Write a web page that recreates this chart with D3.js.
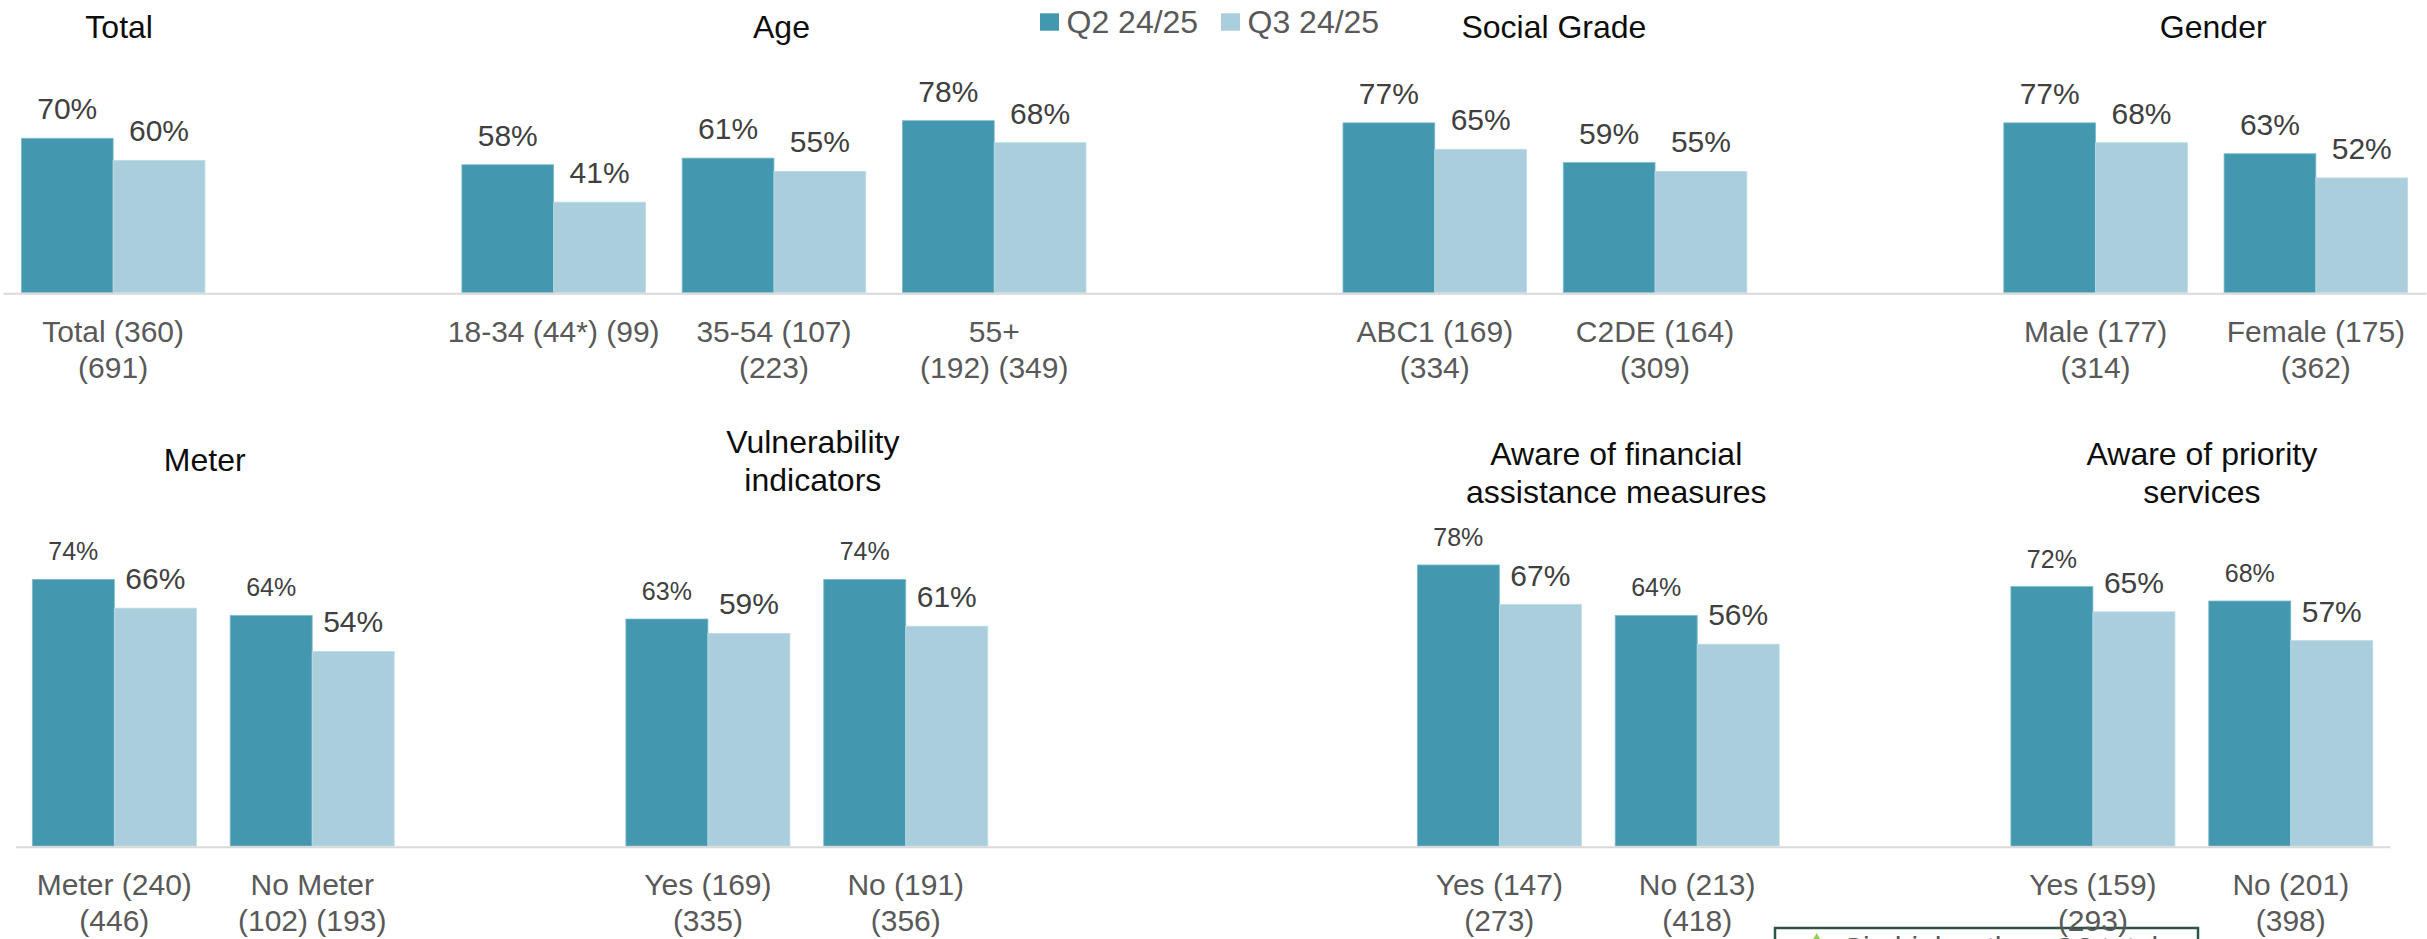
<!DOCTYPE html>
<html>
<head>
<meta charset="utf-8">
<script src="https://cdn.jsdelivr.net/npm/d3@7/dist/d3.min.js"></script>
<style>
  html, body { margin: 0; padding: 0; background: #ffffff; }
  svg { display: block; }
  text { font-family: "Liberation Sans", Arial, sans-serif; }
</style>
</head>
<body>
<svg id="chart" width="2427" height="939"></svg>
<script>
// ---- Data ----------------------------------------------------------------
const seriesNames = ["Q2 24/25", "Q3 24/25"];

// Top row: empty strings are spacer slots between the breakdowns
const topCategories = [
  "Total (360)\n(691)", "",
  "18-34 (44*) (99)", "35-54 (107)\n(223)", "55+\n(192) (349)", "",
  "ABC1 (169)\n(334)", "C2DE (164)\n(309)", "",
  "Male (177)\n(314)", "Female (175)\n(362)"
];
const topQ2 = [70, null, 58, 61, 78, null, 77, 59, null, 77, 63];
const topQ3 = [60, null, 41, 55, 68, null, 65, 55, null, 68, 52];
const topGroups = [
  { title: ["Total"], first: 0, last: 0 },
  { title: ["Age"], first: 2, last: 4 },
  { title: ["Social Grade"], first: 6, last: 7 },
  { title: ["Gender"], first: 9, last: 10 }
];

// Bottom row
const bottomCategories = [
  "Meter (240)\n(446)", "No Meter\n(102) (193)", "",
  "Yes (169)\n(335)", "No (191)\n(356)", "", "",
  "Yes (147)\n(273)", "No (213)\n(418)", "",
  "Yes (159)\n(293)", "No (201)\n(398)"
];
const bottomQ2 = [74, 64, null, 63, 74, null, null, 78, 64, null, 72, 68];
const bottomQ3 = [66, 54, null, 59, 61, null, null, 67, 56, null, 65, 57];
const bottomGroups = [
  { title: ["Meter"], first: 0, last: 1 },
  { title: ["Vulnerability", "indicators"], first: 3, last: 4 },
  { title: ["Aware of financial", "assistance measures"], first: 7, last: 8 },
  { title: ["Aware of priority", "services"], first: 10, last: 11 }
];

const noteText = "Sig higher than Q2 total";

// ---- Styling / layout ----------------------------------------------------
const colors = ["#4397ae", "#aacedc"];
const strokes = ["#7fbccd", "#bcdbe6"];
const labelColor = "#404040";
const catColor = "#595959";
const titleColor = "#0d0d0d";
const axisColor = "#d9d9d9";

const rows = [
  {
    categories: topCategories, q2: topQ2, q3: topQ3, groups: topGroups,
    x0: 3, x1: 2426, padding: 0.1666,
    base: 292.5, fullHeight: 220.3, axisY: 293.3,
    labelSizes: [30, 30],
    catY: 341.5,
    titleDx: [6, 7.5, 9, 7.5],
    titleY: [[38], [38], [38], [38]]
  },
  {
    categories: bottomCategories, q2: bottomQ2, q3: bottomQ3, groups: bottomGroups,
    x0: 15.4, x1: 2389.7, padding: 0.171,
    base: 846, fullHeight: 360.3, axisY: 846.8,
    labelSizes: [25, 30],
    catY: 895,
    titleDx: [-8.5, 6, 18, 10],
    titleY: [[471], [453, 491], [465, 502.5], [465, 502.5]]
  }
];

const svg = d3.select("#chart");

// Legend note box (sits beneath the category labels)
const note = svg.append("g").attr("class", "note");
note.append("rect")
  .attr("x", 1775).attr("y", 928)
  .attr("width", 423).attr("height", 60)
  .attr("fill", "#ffffff")
  .attr("stroke", "#2e5444").attr("stroke-width", 2.5);
note.append("path")
  .attr("d", d3.line()([[1816.7, 933], [1827, 951], [1806.4, 951]]) + "Z")
  .attr("fill", "#92d050");
note.append("text")
  .attr("x", 1843).attr("y", 958)
  .attr("font-size", 30).attr("fill", catColor)
  .text(noteText);

rows.forEach(row => {
  const n = row.categories.length;
  const x = d3.scaleBand()
    .domain(d3.range(n))
    .range([row.x0, row.x1])
    .paddingInner(row.padding)
    .paddingOuter(row.padding / 2);
  const xs = d3.scaleBand()
    .domain([0, 1])
    .range([0, x.bandwidth()]);
  const y = d3.scaleLinear()
    .domain([0, 100])
    .range([row.base, row.base - row.fullHeight]);

  const g = svg.append("g");

  // Bars
  const values = d3.range(n).map(i => ({ i, vals: [row.q2[i], row.q3[i]] }));
  const groupSel = g.selectAll("g.cat")
    .data(values.filter(d => d.vals[0] != null))
    .join("g")
    .attr("class", "cat")
    .attr("transform", d => `translate(${x(d.i)},0)`);

  groupSel.selectAll("rect")
    .data(d => d.vals.map((v, s) => ({ v, s })))
    .join("rect")
    .attr("x", d => xs(d.s))
    .attr("y", d => y(d.v))
    .attr("width", xs.bandwidth())
    .attr("height", d => y(0) - y(d.v))
    .attr("fill", d => colors[d.s])
    .attr("stroke", d => strokes[d.s])
    .attr("stroke-width", 0.8);

  groupSel.selectAll("text.val")
    .data(d => d.vals.map((v, s) => ({ v, s })))
    .join("text")
    .attr("class", "val")
    .attr("x", d => xs(d.s) + xs.bandwidth() / 2)
    .attr("y", d => y(d.v) - 19)
    .attr("text-anchor", "middle")
    .attr("font-size", d => row.labelSizes[d.s])
    .attr("fill", labelColor)
    .text(d => d.v + "%");

  // Axis line
  const axis = d3.axisBottom(x).tickSize(0).tickSizeOuter(0).tickFormat("");
  const ax = g.append("g")
    .attr("transform", `translate(0,${row.axisY})`)
    .call(axis);
  ax.select(".domain").attr("stroke", axisColor).attr("stroke-width", 2);
  ax.selectAll(".tick").remove();

  // Category labels
  g.selectAll("text.cat")
    .data(d3.range(n).filter(i => row.categories[i] !== ""))
    .join("text")
    .attr("class", "cat")
    .attr("text-anchor", "middle")
    .attr("font-size", 30)
    .attr("fill", catColor)
    .each(function (i) {
      const t = d3.select(this);
      const cx = x(i) + x.bandwidth() / 2;
      row.categories[i].split("\n").forEach((line, k) => {
        t.append("tspan")
          .attr("x", cx)
          .attr("y", row.catY + k * 36)
          .text(line);
      });
    });

  // Breakdown titles
  row.groups.forEach((grp, gi) => {
    const cx = (x(grp.first) + x(grp.last) + x.bandwidth()) / 2 + row.titleDx[gi];
    const t = g.append("text")
      .attr("text-anchor", "middle")
      .attr("font-size", 32)
      .attr("fill", titleColor);
    grp.title.forEach((line, k) => {
      t.append("tspan").attr("x", cx).attr("y", row.titleY[gi][k]).text(line);
    });
  });
});

// Legend
const legend = svg.append("g").attr("class", "legend");
const legendX = [1040, 1221];
seriesNames.forEach((name, s) => {
  legend.append("rect")
    .attr("x", legendX[s]).attr("y", 13.3)
    .attr("width", 19).attr("height", 17.4)
    .attr("fill", colors[s]);
  legend.append("text")
    .attr("x", legendX[s] + 26.5).attr("y", 33)
    .attr("font-size", 32)
    .attr("fill", catColor)
    .text(name);
});
</script>
</body>
</html>
